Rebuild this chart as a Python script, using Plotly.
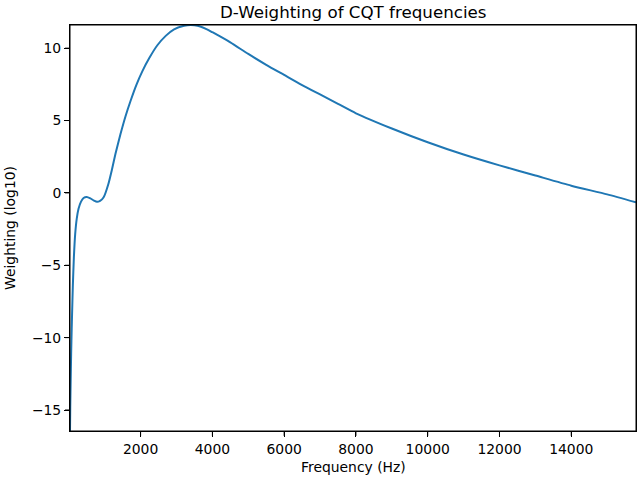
import plotly.graph_objects as go

freq_hz = [32.7, 40, 50, 65, 80, 90, 112, 140, 177, 220, 270, 340, 410, 500,
           600, 700, 785, 870, 970, 1100, 1205, 1300, 1438, 1580, 1719, 1880,
           2047, 2250, 2467, 2700, 2932, 3213, 3400, 3588, 3850, 4000, 4500,
           5000, 5500, 6000, 6500, 7000, 7500, 8000, 9000, 10000, 11000, 12000,
           13000, 14000, 15000, 15804]
weight = [-16.45, -14.8, -13.2, -11.1, -9.4, -8.4, -6.4, -4.5, -2.85, -1.8, -1.1,
          -0.6, -0.35, -0.28, -0.38, -0.53, -0.62, -0.55, -0.3, 0.6, 1.65, 2.7,
          4.05, 5.3, 6.35, 7.45, 8.4, 9.35, 10.2, 10.85, 11.3, 11.55, 11.6, 11.55,
          11.3, 11.1, 10.4, 9.6, 8.85, 8.15, 7.45, 6.8, 6.15, 5.5, 4.45, 3.5,
          2.65, 1.9, 1.2, 0.5, -0.1, -0.65]

x_ticks = [2000, 4000, 6000, 8000, 10000, 12000, 14000]
y_ticks = [-15, -10, -5, 0, 5, 10]

title_text = "D-Weighting of CQT frequencies"
x_label = "Frequency (Hz)"
y_label = "Weighting (log10)"

fig = go.Figure()
fig.add_trace(go.Scatter(x=freq_hz, y=weight, mode="lines",
                         line=dict(color="#1f77b4", width=2, shape="spline", smoothing=0.6)))

font = "DejaVu Sans"
axis_common = dict(showgrid=False, zeroline=False, showline=True, linecolor="#000000",
                   linewidth=1, mirror=True, ticks="outside", ticklen=5, tickwidth=1,
                   tickcolor="#000000", tickfont=dict(family=font, size=13.9, color="black"),
                   automargin=False)

# frame drawn as a shape
fig.add_shape(type="rect", xref="paper", yref="paper", x0=0, y0=0, x1=1, y1=1,
              line=dict(color="black", width=1), layer="above")
# tick marks
for v in x_ticks:
    fig.add_shape(type="line", xref="x", yref="paper", x0=v, x1=v, y0=0, y1=-0.012,
                  line=dict(color="black", width=1))
for v in y_ticks:
    fig.add_shape(type="line", xref="paper", yref="y", x0=0, x1=-0.0088, y0=v, y1=v,
                  line=dict(color="black", width=1))

# titles as annotations for exact placement
fig.add_annotation(text=title_text, xref="paper", yref="paper", x=0.5, y=1,
                   xanchor="center", yanchor="middle", yshift=13, showarrow=False,
                   font=dict(family=font, size=16.7, color="black"))
fig.add_annotation(text=x_label, xref="paper", yref="paper", x=0.5, y=0,
                   xanchor="center", yanchor="middle", yshift=-36, showarrow=False,
                   font=dict(family=font, size=13.9, color="black"))
fig.add_annotation(text=y_label, xref="paper", yref="paper", x=0, y=0.5,
                   xanchor="center", yanchor="middle", xshift=-60, textangle=-90,
                   showarrow=False, font=dict(family=font, size=13.9, color="black"))

fig.update_layout(
    template="none",
    width=640, height=480,
    margin=dict(l=70, r=4, t=25, b=49),
    plot_bgcolor="white", paper_bgcolor="white",
    showlegend=False,
    xaxis=dict(range=[min(freq_hz), max(freq_hz)], tickvals=x_ticks,
               ticktext=[str(v) for v in x_ticks], **axis_common),
    yaxis=dict(range=[min(weight), max(weight)], tickvals=y_ticks,
               ticktext=[("\u2212" + str(-v)) if v < 0 else str(v) for v in y_ticks],
               **axis_common),
)
fig.write_html("out.html", config={"displayModeBar": False},
               post_script="document.body.style.margin='0';")
